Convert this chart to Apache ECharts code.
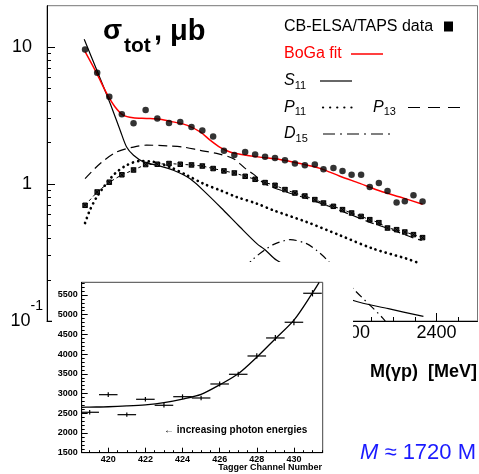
<!DOCTYPE html>
<html><head><meta charset="utf-8">
<script src="https://cdn.jsdelivr.net/npm/echarts@6/dist/echarts.min.js"></script>
<style>html,body{margin:0;padding:0;background:#fff}#c{width:479px;height:474px}</style>
</head><body><div id="c"></div>
<script>
// ---------- main plot data (M(γp) in MeV, sigma in microbarn) ----------
const dataMass = [1588,1616,1644,1673,1700,1728,1755,1782,1808,1834,1859,1884,1909,1933,1958,1981,2004,2027,2050,2073,2096,2119,2139,2162,2183,2204,2226,2246,2267,2287,2308,2327,2347,2368];
const dataSigma = [9.60,6.48,4.33,3.23,2.78,3.46,3.01,2.79,2.83,2.60,2.46,2.22,1.75,1.63,1.71,1.64,1.58,1.55,1.49,1.41,1.37,1.39,1.28,1.31,1.245,1.17,1.17,0.951,1.017,0.889,0.731,0.747,0.827,0.744];
const starSigma = [0.699,0.874,1.03,1.167,1.265,1.386,1.393,1.41,1.393,1.377,1.352,1.296,1.245,1.203,1.138,1.082,1.024,0.978,0.910,0.859,0.817,0.769,0.726,0.687,0.650,0.614,0.580,0.549,0.522,0.477,0.464,0.446,0.427,0.406];

const fitMass  = [1588,1615,1638,1657,1676,1699,1730,1761,1791,1823,1854,1877,1900,1923,1946,1992,2038,2085,2131,2177,2223,2270,2316,2368];
const fitSigma = [9.23,6.41,4.58,3.66,3.18,3.04,3.01,2.97,2.84,2.69,2.40,2.09,1.85,1.71,1.65,1.57,1.51,1.41,1.30,1.14,1.01,0.889,0.803,0.711];

const s11Mass  = [1586,1615,1646,1669,1684,1700,1723,1754,1792,1830,1869,1908,1946,1985,2004,2031,2100,2150,2208,2289,2370];
const s11Sigma = [11.4,6.78,3.87,2.47,1.86,1.62,1.45,1.37,1.26,1.095,0.851,0.643,0.485,0.367,0.331,0.277,0.21,0.175,0.141,0.123,0.108];

const p11Mass  = [1588,1599,1615,1634,1657,1684,1715,1746,1784,1823,1861,1900,1938,1985,2023,2100,2177,2254,2331,2362];
const p11Sigma = [0.519,0.643,0.804,0.978,1.19,1.37,1.47,1.45,1.33,1.16,1.007,0.90,0.804,0.719,0.643,0.528,0.422,0.337,0.285,0.263];

const p13Mass  = [1588,1623,1661,1700,1730,1777,1815,1854,1892,1931,1958,1977,2004,2050,2100,2150,2200,2250,2300,2347,2366];
const p13Sigma = [1.095,1.41,1.71,1.86,1.92,1.90,1.86,1.76,1.67,1.53,1.30,1.18,1.00,0.88,0.786,0.69,0.60,0.52,0.46,0.403,0.388];

const d15Mass  = [1930,1977,2004,2023,2062,2100,2123,2145,2207,2276,2300];
const d15Sigma = [0.20,0.284,0.331,0.361,0.392,0.367,0.328,0.284,0.173,0.105,0.083];

// axis ticks
const xMajorTicks = [1600,1800,2000,2200,2400];
const xMinorTicks = [1550,1650,1700,1750,1850,1900,1950,2050,2100,2150,2250,2300,2350,2450];
const yMajorTicks = [0.1,1,10];
const yMinorTicks = [0.2,0.3,0.4,0.5,0.6,0.7,0.8,0.9,2,3,4,5,6,7,8,9];

// ---------- inset data ----------
const insetChannel = [419,420,421,422,423,424,425,426,427,428,429,430,431];
const insetCounts  = [2525,2971,2464,2854,2702,2920,2887,3242,3488,3952,4409,4807,5542];
const insetErrors  = [55,60,55,58,57,59,59,62,64,68,72,75,80];
const insetFitChannel = [418.57,419,420,421,422,423,424,425,426,427,428,429,430,431,431.36];
const insetFitCounts  = [2650,2655,2665,2685,2715,2770,2860,2980,3220,3500,3920,4390,4860,5550,5820];
const insetXTicks = [420,422,424,426,428,430];
const insetXMinor = [419,419.5,420.5,421,421.5,422.5,423,423.5,424.5,425,425.5,426.5,427,427.5,428.5,429,429.5,430.5,431,431.5];
const insetYTicks = [1500,2000,2500,3000,3500,4000,4500,5000,5500];
const insetYMinor = [1600,1700,1800,1900,2100,2200,2300,2400,2600,2700,2800,2900,3100,3200,3300,3400,3600,3700,3800,3900,4100,4200,4300,4400,4600,4700,4800,4900,5100,5200,5300,5400,5600,5700,5800];

const FONT = '"Liberation Sans", Arial, Helvetica, sans-serif';
const pair = (xs, ys) => xs.map((x, i) => [x, ys[i]]);
const plain = v => String(Math.round(v * 100) / 100);

const chart = echarts.init(document.getElementById('c'), null, {renderer: 'canvas'});

const hiddenAxisBits = {axisLine: {show: false}, axisLabel: {show: false}, splitLine: {show: false}};

const option = {
  animation: false,
  backgroundColor: '#fff',
  grid: [
    {left: 47, right: 1.5, top: 5.7, bottom: 153, show: true, borderColor: '#777', borderWidth: 1, z: 0},
    {left: 81.7, right: 156.3, top: 282.3, bottom: 21.3, show: true, borderColor: '#444', borderWidth: 1, backgroundColor: '#fff', z: 60}
  ],
  xAxis: [
    {gridIndex: 0, type: 'value', min: 1500, max: 2495, position: 'bottom', z: 1,
      axisLine: {show: true, onZero: false, lineStyle: {color: '#000', width: 1}},
      axisTick: {show: true, inside: true, length: 8, customValues: xMajorTicks, lineStyle: {color: '#000'}},
      axisLabel: {show: true, customValues: xMajorTicks, formatter: plain, fontSize: 18, fontFamily: FONT, color: '#000', margin: 3},
      splitLine: {show: false}},
    Object.assign({gridIndex: 0, type: 'value', min: 1500, max: 2495, position: 'bottom', z: 1,
      axisTick: {show: true, inside: true, length: 4, customValues: xMinorTicks, lineStyle: {color: '#000'}}}, hiddenAxisBits),
    {gridIndex: 1, type: 'value', min: 418.57, max: 431.55, position: 'bottom', z: 70,
      axisLine: {show: true, onZero: false, lineStyle: {color: '#000', width: 1}},
      axisTick: {show: true, inside: true, length: 5, customValues: insetXTicks, lineStyle: {color: '#000'}},
      axisLabel: {show: true, customValues: insetXTicks, formatter: plain, fontSize: 9, fontWeight: 'bold', fontFamily: FONT, color: '#000', margin: 2},
      splitLine: {show: false}},
    Object.assign({gridIndex: 1, type: 'value', min: 418.57, max: 431.55, position: 'bottom', z: 70,
      axisTick: {show: true, inside: true, length: 2.5, customValues: insetXMinor, lineStyle: {color: '#000'}}}, hiddenAxisBits)
  ],
  yAxis: [
    {gridIndex: 0, type: 'log', logBase: 10, min: 0.1, max: 20, position: 'left', z: 1,
      axisLine: {show: true, onZero: false, lineStyle: {color: '#000', width: 1}},
      axisTick: {show: true, inside: true, length: 8, customValues: yMajorTicks, lineStyle: {color: '#000'}},
      axisLabel: {show: true, customValues: yMajorTicks, margin: 4, color: '#000',
        formatter: v => {
          const e = Math.round(Math.log10(v));
          if (e === 1) return '{n|10}{g| }';
          if (e === 0) return '{n|1}{g| }';
          return '{n|10}{s|-1}';
        },
        rich: {
          n: {fontSize: 18, fontFamily: FONT, color: '#000', lineHeight: 44, verticalAlign: 'middle'},
          g: {width: 11, fontSize: 14, lineHeight: 44},
          s: {fontSize: 14, fontFamily: FONT, color: '#000', lineHeight: 14, verticalAlign: 'top'}
        }},
      splitLine: {show: false}},
    Object.assign({gridIndex: 0, type: 'log', logBase: 10, min: 0.1, max: 20, position: 'left', z: 1,
      axisTick: {show: true, inside: true, length: 4, customValues: yMinorTicks, lineStyle: {color: '#000'}}}, hiddenAxisBits),
    {gridIndex: 1, type: 'value', min: 1500, max: 5820, position: 'left', z: 70,
      axisLine: {show: true, onZero: false, lineStyle: {color: '#000', width: 1}},
      axisTick: {show: true, inside: true, length: 6, customValues: insetYTicks, lineStyle: {color: '#000'}},
      axisLabel: {show: true, customValues: insetYTicks, formatter: plain, fontSize: 9, fontWeight: 'bold', fontFamily: FONT, color: '#000', margin: 4},
      splitLine: {show: false}},
    Object.assign({gridIndex: 1, type: 'value', min: 1500, max: 5820, position: 'left', z: 70,
      axisTick: {show: true, inside: true, length: 3, customValues: insetYMinor, lineStyle: {color: '#000'}}}, hiddenAxisBits)
  ],
  series: [
    {name: 'BoGa fit', type: 'line', xAxisIndex: 0, yAxisIndex: 0, data: pair(fitMass, fitSigma), smooth: 0.3,
      showSymbol: false, lineStyle: {color: '#ff0000', width: 1.5}, z: 3},
    {name: 'S11', type: 'line', xAxisIndex: 0, yAxisIndex: 0, data: pair(s11Mass, s11Sigma), smooth: 0.3,
      showSymbol: false, lineStyle: {color: '#000', width: 1.2}, z: 2},
    {name: 'P11', type: 'line', xAxisIndex: 0, yAxisIndex: 0, data: pair(p11Mass, p11Sigma), smooth: 0.3,
      showSymbol: false, lineStyle: {color: '#000', width: 2.7, type: [0.1, 5.2], cap: 'round'}, z: 2},
    {name: 'P13', type: 'line', xAxisIndex: 0, yAxisIndex: 0, data: pair(p13Mass, p13Sigma), smooth: 0.3,
      showSymbol: false, lineStyle: {color: '#000', width: 1.2, type: [9, 5]}, z: 2},
    {name: 'D15', type: 'line', xAxisIndex: 0, yAxisIndex: 0, data: pair(d15Mass, d15Sigma), smooth: 0.3,
      showSymbol: false, lineStyle: {color: '#000', width: 1.2, type: [8, 4, 1.5, 4]}, z: 2},
    {name: 'stars', type: 'line', xAxisIndex: 0, yAxisIndex: 0, data: pair(dataMass, starSigma),
      symbol: 'path://M0 0H10V10H0Z M0 0L10 10 M10 0L0 10', symbolSize: 4.5, showSymbol: true,
      itemStyle: {color: '#333', borderColor: '#000', borderWidth: 1},
      lineStyle: {color: '#000', width: 1, type: [3, 3]}, z: 4},
    {name: 'CB-ELSA/TAPS data', type: 'scatter', xAxisIndex: 0, yAxisIndex: 0, data: pair(dataMass, dataSigma),
      symbol: 'circle', symbolSize: 6.5, itemStyle: {color: '#000'}, z: 5},
    // inset
    {name: 'counts', type: 'custom', xAxisIndex: 2, yAxisIndex: 2, z: 80,
      data: insetChannel.map((c, i) => [c, insetCounts[i], insetErrors[i]]),
      renderItem: (params, api) => {
        const x = api.value(0), y = api.value(1), e = api.value(2);
        const cs = params.coordSys;
        const l = api.coord([x - 0.5, y]), r = api.coord([x + 0.5, y]);
        const t = api.coord([x, y + e]), b = api.coord([x, y - e]);
        const x1 = Math.max(l[0], cs.x), x2 = Math.min(r[0], cs.x + cs.width);
        return {type: 'group', children: [
          {type: 'line', shape: {x1: x1, y1: l[1], x2: x2, y2: r[1]}, style: {stroke: '#000', lineWidth: 1.2}},
          {type: 'line', shape: {x1: t[0], y1: t[1], x2: b[0], y2: b[1]}, style: {stroke: '#000', lineWidth: 1.2}}
        ]};
      }},
    {name: 'fit', type: 'line', xAxisIndex: 2, yAxisIndex: 2, data: pair(insetFitChannel, insetFitCounts), smooth: 0.3,
      showSymbol: false, lineStyle: {color: '#000', width: 1.3}, z: 80}
  ],
  graphic: {elements: [
    // white panel behind the inset
    {type: 'rect', shape: {x: 52, y: 262, width: 301, height: 212}, style: {fill: '#fff'}, z: 50, silent: true},
    // title
    {type: 'text', x: 103, y: 31.5, z: 100, style: {text: 'σ', font: 'bold 28px ' + FONT, fill: '#000', verticalAlign: 'middle'}},
    {type: 'text', x: 124, y: 46, z: 100, style: {text: 'tot', font: 'bold 21px ' + FONT, fill: '#000', verticalAlign: 'middle'}},
    {type: 'text', x: 154, y: 31.5, z: 100, style: {text: ', μb', font: 'bold 29px ' + FONT, fill: '#000', verticalAlign: 'middle'}},
    // legend
    {type: 'text', x: 284, y: 26.7, z: 100, style: {text: 'CB-ELSA/TAPS data', font: '16px ' + FONT, fill: '#000', verticalAlign: 'middle'}},
    {type: 'rect', shape: {x: 444, y: 21.5, width: 9, height: 10}, style: {fill: '#000'}, z: 100},
    {type: 'text', x: 284, y: 53.5, z: 100, style: {text: 'BoGa fit', font: '16px ' + FONT, fill: '#ff0000', verticalAlign: 'middle'}},
    {type: 'line', shape: {x1: 351, y1: 54, x2: 383, y2: 54}, style: {stroke: '#ff0000', lineWidth: 1.5}, z: 100},
    {type: 'text', x: 284, y: 81, z: 100, style: {text: '{i|S}{s|11}', verticalAlign: 'middle',
      rich: {i: {font: 'italic 16px ' + FONT, fill: '#000', lineHeight: 20, verticalAlign: 'middle'}, s: {font: '11px ' + FONT, fill: '#000', lineHeight: 11, verticalAlign: 'bottom'}}}},
    {type: 'line', shape: {x1: 320, y1: 81, x2: 352, y2: 81}, style: {stroke: '#000', lineWidth: 1.2}, z: 100},
    {type: 'text', x: 284, y: 107.5, z: 100, style: {text: '{i|P}{s|11}', verticalAlign: 'middle',
      rich: {i: {font: 'italic 16px ' + FONT, fill: '#000', lineHeight: 20, verticalAlign: 'middle'}, s: {font: '11px ' + FONT, fill: '#000', lineHeight: 11, verticalAlign: 'bottom'}}}},
    {type: 'line', shape: {x1: 323, y1: 107.5, x2: 352, y2: 107.5}, style: {stroke: '#000', lineWidth: 2.2, lineDash: [0.1, 7], lineCap: 'round'}, z: 100},
    {type: 'text', x: 373, y: 107.5, z: 100, style: {text: '{i|P}{s|13}', verticalAlign: 'middle',
      rich: {i: {font: 'italic 16px ' + FONT, fill: '#000', lineHeight: 20, verticalAlign: 'middle'}, s: {font: '11px ' + FONT, fill: '#000', lineHeight: 11, verticalAlign: 'bottom'}}}},
    {type: 'line', shape: {x1: 408, y1: 107.5, x2: 460, y2: 107.5}, style: {stroke: '#000', lineWidth: 1.2, lineDash: [12, 8]}, z: 100},
    {type: 'text', x: 284, y: 134, z: 100, style: {text: '{i|D}{s|15}', verticalAlign: 'middle',
      rich: {i: {font: 'italic 16px ' + FONT, fill: '#000', lineHeight: 20, verticalAlign: 'middle'}, s: {font: '11px ' + FONT, fill: '#000', lineHeight: 11, verticalAlign: 'bottom'}}}},
    {type: 'line', shape: {x1: 323, y1: 134, x2: 395, y2: 134}, style: {stroke: '#000', lineWidth: 1.2, lineDash: [12, 5, 2, 5]}, z: 100},
    // axis title main
    {type: 'text', x: 477, y: 372, z: 100, style: {text: 'M(γp)  [MeV]', font: 'bold 18px ' + FONT, fill: '#000', align: 'right', verticalAlign: 'middle'}},
    // inset texts
    {type: 'text', x: 164, y: 430, z: 100, style: {text: '← increasing photon energies', font: 'bold 10px ' + FONT, fill: '#000', verticalAlign: 'middle'}},
    {type: 'text', x: 322, y: 468, z: 100, style: {text: 'Tagger Channel Number', font: 'bold 9px ' + FONT, fill: '#000', align: 'right', verticalAlign: 'middle'}},
    // blue note
    {type: 'text', x: 360, y: 453, z: 100, style: {text: '{i|M}{r| ≈ 1720 M}', verticalAlign: 'middle',
      rich: {i: {font: 'italic 22px ' + FONT, fill: '#1a1aff'}, r: {font: '22px ' + FONT, fill: '#1a1aff'}}}}
  ]}
};
chart.setOption(option);
</script>
</body></html>
